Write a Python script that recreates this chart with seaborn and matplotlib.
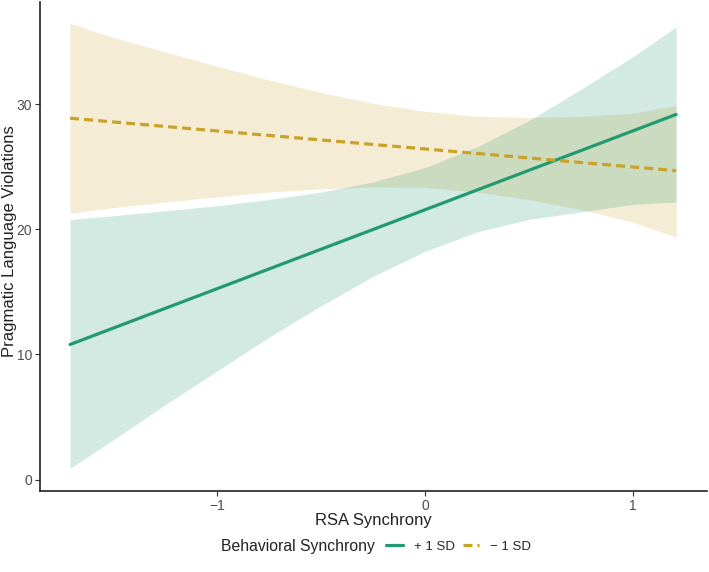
import pandas as pd
import matplotlib.pyplot as plt
import seaborn as sns
import numpy as np

# values
groups = ['+ 1 SD', '\u2212 1 SD']
line_x = [-1.71, 1.21]
line_plus = [10.8, 29.2]
line_minus = [28.9, 24.7]

band_x = [-1.71, -1.5, -1.25, -1.0, -0.75, -0.5, -0.25, 0.0, 0.25, 0.5, 0.75, 1.0, 1.21]
plus_lo = [0.9, 3.2, 6.0, 8.7, 11.4, 13.9, 16.25, 18.25, 19.8, 20.8, 21.4, 22.0, 22.2]
plus_hi = [20.8, 21.1, 21.5, 21.9, 22.4, 23.0, 23.8, 24.95, 26.6, 28.7, 31.2, 33.8, 36.2]
minus_lo = [21.3, 21.75, 22.2, 22.6, 23.0, 23.25, 23.4, 23.35, 23.0, 22.4, 21.6, 20.6, 19.4]
minus_hi = [36.5, 35.35, 34.2, 33.05, 31.95, 30.95, 30.1, 29.45, 29.05, 28.95, 29.05, 29.3, 29.9]

colors = {'+ 1 SD': '#22996e', '\u2212 1 SD': '#c9a22a'}

df = pd.DataFrame({
    'RSA Synchrony': line_x * 2,
    'PLV': line_plus + line_minus,
    'Behavioral Synchrony': [groups[0]] * 2 + [groups[1]] * 2,
})

sns.set_style('white')
plt.rcParams['font.family'] = ['Liberation Sans', 'DejaVu Sans']

fig = plt.figure(figsize=(7.09, 5.72), dpi=100)
ax = fig.add_axes([0.0564, 0.1416, 0.9408, 0.855])

# confidence bands (drawn first so lines sit on top)
ax.fill_between(band_x, minus_lo, minus_hi, color='#c9a22a', alpha=0.2, lw=0)
ax.fill_between(band_x, plus_lo, plus_hi, color='#22996e', alpha=0.2, lw=0)

sns.lineplot(data=df, x='RSA Synchrony', y='PLV', hue='Behavioral Synchrony',
             style='Behavioral Synchrony', palette=colors,
             dashes={groups[0]: '', groups[1]: (2.8, 1.6)},
             linewidth=2.3, ax=ax)

ax.set_xlim(-1.855, 1.359)
ax.set_ylim(-0.92, 38.2)
ax.set_xticks([-1, 0, 1])
ax.set_xticklabels(['\u22121', '0', '1'])
ax.set_yticks([0, 10, 20, 30])
ax.tick_params(axis='both', colors='#333333', labelcolor='#4d4d4d',
               labelsize=10, length=3.5, width=0.8, direction='out',
               bottom=True, left=True, pad=2)
for s in ['top', 'right']:
    ax.spines[s].set_visible(False)
for s in ['left', 'bottom']:
    ax.spines[s].set_color('#222222')
    ax.spines[s].set_linewidth(1.2)

ax.set_xlabel('RSA Synchrony', fontsize=12, color='#222222')
ax.set_ylabel('Pragmatic Language Violations', fontsize=12, color='#222222')
ax.xaxis.set_label_coords(0.5, -0.045)
ax.yaxis.set_label_coords(-0.035, 0.51)

# legend at the bottom, title to the left of the keys
handles, labels = ax.get_legend_handles_labels()
ax.get_legend().remove()
fig.text(0.312, 0.044, 'Behavioral Synchrony', fontsize=11.3, color='#222222',
         ha='left', va='center')
fig.legend(handles, labels, loc='center left', bbox_to_anchor=(0.5445, 0.044),
           ncol=2, frameon=False, fontsize=9.5, handlelength=1.25,
           handletextpad=0.85, columnspacing=0.6, borderaxespad=0,
           borderpad=0)

plt.savefig('out.png', dpi=100)
